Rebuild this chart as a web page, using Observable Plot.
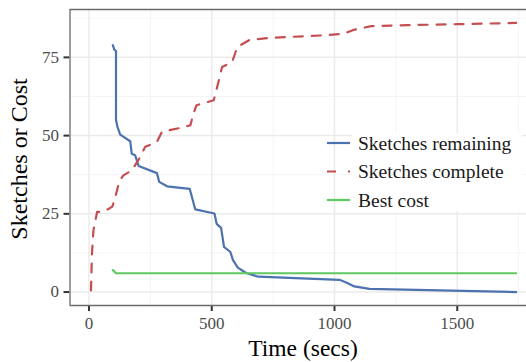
<!DOCTYPE html>
<html><head><meta charset="utf-8">
<script src="https://cdn.jsdelivr.net/npm/d3@7"></script>
<script src="https://cdn.jsdelivr.net/npm/@observablehq/plot@0.6"></script>
<style>
html,body{margin:0;padding:0;background:#fff;}
#chart{position:relative;width:526px;height:362px;overflow:hidden;}
#chart svg g[aria-label^="x-axis"] path, #chart svg g[aria-label^="y-axis"] path{stroke:#333;stroke-width:2px;}
</style></head><body><div id="chart"></div>
<script>
// ---- data ----
const seriesNames = ["Sketches remaining", "Sketches complete", "Best cost"];
const seriesColors = ["#4c72b0", "#c44e52", "#5fc861"];

const remainingTime = [97, 103, 110, 110, 116, 127, 168, 174, 188, 202, 277, 286, 318, 410, 433, 511, 520, 538, 550, 576, 586, 606, 640, 690, 1020, 1050, 1081, 1142, 1740];
const remainingVal  = [78.9, 77.5, 77, 55, 52.8, 50.3, 48.2, 44.2, 43.7, 40.3, 38, 35.2, 33.8, 33, 26.4, 25.1, 21.8, 20.5, 14.4, 12.8, 10.3, 7.8, 6.1, 4.9, 3.9, 3.0, 1.8, 1.0, 0];

const completeTime = [8, 12, 18, 33, 58, 95, 106, 124, 140, 175, 202, 229, 277, 297, 386, 413, 425, 438, 508, 522, 542, 583, 604, 652, 727, 972, 1040, 1074, 1150, 1300, 1500, 1740];
const completeVal  = [0.5, 12, 19.7, 25.6, 25.6, 27.3, 30, 35.5, 37.3, 38.9, 42.3, 46.4, 48, 51.2, 52.7, 53.3, 57, 59.7, 61.3, 65.5, 71.9, 73.5, 78.3, 80.5, 81.2, 82.1, 82.6, 83.7, 85, 85.3, 85.6, 86];

const costTime = [97, 110, 1740];
const costVal  = [7, 6, 6];

const xMajor = [0, 500, 1000, 1500];
const xMinor = [250, 750, 1250, 1750];
const yMajor = [0, 25, 50, 75];
const yMinor = [12.5, 37.5, 62.5, 87.5];
const xTitle = "Time (secs)";
const yTitle = "Sketches or Cost";

// ---- build ----
const toRows = (t, v) => t.map((d, i) => ({t: d, v: v[i]}));
const remaining = toRows(remainingTime, remainingVal);
const complete = toRows(completeTime, completeVal);
const cost = toRows(costTime, costVal);

const xDom = [-77.4, 1782];
const yDom = [-4.3, 90.3];

const plot = Plot.plot({
  width: 526, height: 362,
  marginLeft: 69.5, marginRight: 0, marginTop: 9, marginBottom: 57,
  style: {fontFamily: "Liberation Serif", fontSize: "17px", color: "#4d4d4d", background: "white", overflow: "hidden"},
  x: {domain: xDom, ticks: xMajor, tickFormat: d3.format("d"), tickSize: 6, tickPadding: 5, label: null},
  y: {domain: yDom, ticks: yMajor, tickFormat: d3.format("d"), tickSize: 6, tickPadding: 5, label: null},
  marks: [
    Plot.ruleX(xMinor, {stroke: "#f3f3f3", strokeWidth: 0.9}),
    Plot.ruleY(yMinor, {stroke: "#f3f3f3", strokeWidth: 0.9}),
    Plot.ruleX(xMajor, {stroke: "#ebebeb", strokeWidth: 1.5}),
    Plot.ruleY(yMajor, {stroke: "#ebebeb", strokeWidth: 1.5}),
    Plot.line(remaining, {x: "t", y: "v", stroke: seriesColors[0], strokeWidth: 2.2}),
    Plot.line(complete, {x: "t", y: "v", stroke: seriesColors[1], strokeWidth: 2.2, strokeDasharray: "9,9"}),
    Plot.line(cost, {x: "t", y: "v", stroke: seriesColors[2], strokeWidth: 2.2}),
    Plot.ruleX([xDom[0]], {stroke: "#6b6b6b", strokeWidth: 1.3}),
    Plot.ruleY([yDom[0]], {stroke: "#6b6b6b", strokeWidth: 1.3}),
    Plot.ruleY([yDom[1]], {stroke: "#6b6b6b", strokeWidth: 1.3})
  ]
});
document.getElementById("chart").appendChild(plot);

const svg = d3.select(plot);
// axis titles
svg.append("text").text(xTitle)
  .attr("x", 303).attr("y", 356)
  .attr("text-anchor", "middle")
  .style("font-family", "Liberation Serif").style("font-size", "23.5px").attr("fill", "#000");
svg.append("text").text(yTitle)
  .attr("transform", "translate(27,159) rotate(-90)")
  .attr("text-anchor", "middle")
  .style("font-family", "Liberation Serif").style("font-size", "24px").attr("fill", "#000");

// legend
const lg = svg.append("g").attr("text-anchor", "start");
lg.append("rect").attr("x", 352).attr("y", 133).attr("width", 170).attr("height", 78).attr("fill", "white");
seriesNames.forEach((name, i) => {
  const y = 143 + i * 28.5;
  lg.append("line").attr("x1", 327).attr("x2", 350).attr("y1", y).attr("y2", y)
    .attr("stroke", seriesColors[i]).attr("stroke-width", 2.2)
    .attr("stroke-dasharray", i === 1 ? "9,12" : null);
  lg.append("text").text(name).attr("x", 358).attr("y", y).attr("dy", "0.35em")
    .attr("text-anchor", "start")
    .style("font-family", "Liberation Serif").style("font-size", "19.5px").attr("fill", "#1a1a1a");
});
</script></body></html>
